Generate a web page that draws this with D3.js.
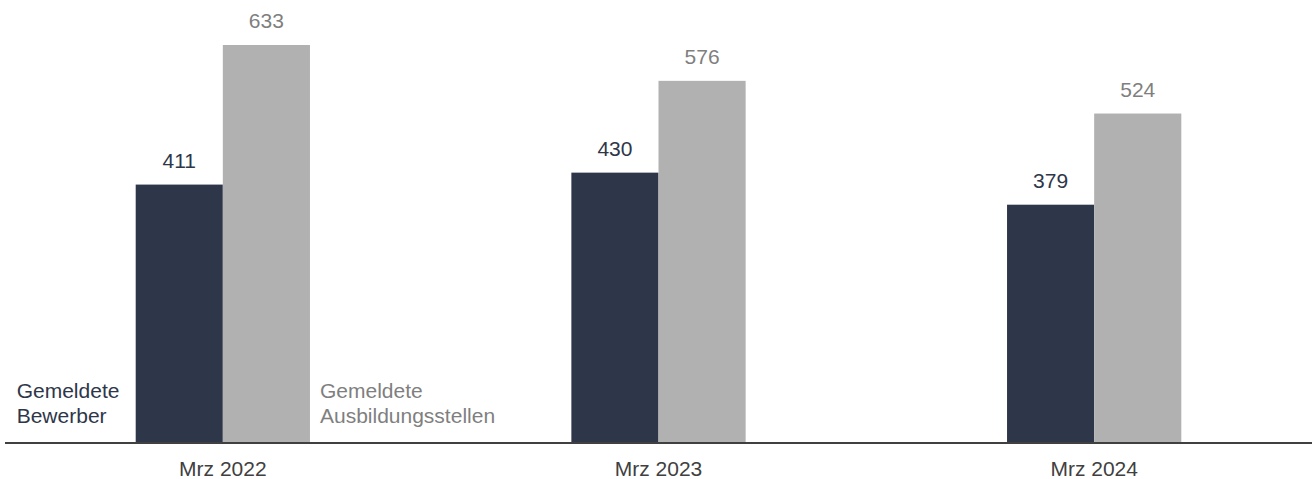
<!DOCTYPE html>
<html>
<head>
<meta charset="utf-8">
<script src="https://cdn.jsdelivr.net/npm/d3@7"></script>
<style>
  html, body { margin: 0; padding: 0; background: #fff; }
  svg { display: block; font-family: "Liberation Sans", Arial, sans-serif; }
</style>
</head>
<body>
<svg id="chart" width="1312" height="479"></svg>
<script>
// Monthly figures (March) for reported applicants vs. reported training positions
const categories = ["Mrz 2022", "Mrz 2023", "Mrz 2024"];
const seriesNames = ["Gemeldete Bewerber", "Gemeldete Ausbildungsstellen"];
const bewerber = [411, 430, 379];
const stellen = [633, 576, 524];
const legendLines = [["Gemeldete", "Bewerber"], ["Gemeldete", "Ausbildungsstellen"]];

const colors = ["#2e3649", "#b1b1b1"];
const labelColors = ["#2e3649", "#7f7f7f"];

const width = 1312, height = 479;
const baseY = 443;
const svg = d3.select("#chart");

const x0 = d3.scaleBand()
  .domain(categories)
  .range([5, width])
  .paddingInner(0.6)
  .paddingOuter(0.3);

const x1 = d3.scaleBand()
  .domain(seriesNames)
  .range([0, x0.bandwidth()])
  .padding(0);

const y = d3.scaleLinear()
  .domain([0, 700])
  .range([baseY, baseY - 700 * (398 / 633)]);

const data = categories.map((c, i) => ({
  cat: c,
  values: [bewerber[i], stellen[i]]
}));

const groups = svg.selectAll("g.group")
  .data(data)
  .join("g")
  .attr("class", "group")
  .attr("transform", d => `translate(${x0(d.cat)},0)`);

groups.selectAll("rect")
  .data(d => d.values.map((v, k) => ({ v, k })))
  .join("rect")
  .attr("x", d => x1(seriesNames[d.k]))
  .attr("width", x1.bandwidth())
  .attr("y", d => y(d.v))
  .attr("height", d => baseY - y(d.v))
  .attr("fill", d => colors[d.k]);

groups.selectAll("text.val")
  .data(d => d.values.map((v, k) => ({ v, k })))
  .join("text")
  .attr("class", "val")
  .attr("x", d => x1(seriesNames[d.k]) + x1.bandwidth() / 2)
  .attr("y", d => y(d.v) - 17)
  .attr("text-anchor", "middle")
  .attr("font-size", 21)
  .attr("fill", d => labelColors[d.k])
  .text(d => d.v);

// Baseline / category axis
const axis = d3.axisBottom(x0).tickSize(0).tickPadding(0);
const axisG = svg.append("g")
  .attr("transform", `translate(0,${baseY})`)
  .call(axis);
axisG.select(".domain")
  .attr("stroke", "#404040")
  .attr("stroke-width", 2)
  .attr("d", `M5,0H${width}`);
axisG.selectAll(".tick text")
  .attr("font-family", "Liberation Sans, Arial, sans-serif")
  .attr("font-size", 21)
  .attr("fill", "#404040")
  .attr("dy", null)
  .attr("y", 33);

// Series labels beside the first group of bars
const firstX = x0(categories[0]);
const legendX = [firstX - 119, firstX + x0.bandwidth() + 10];
legendLines.forEach((lines, k) => {
  const t = svg.append("text")
    .attr("x", legendX[k])
    .attr("y", 398)
    .attr("font-size", 21)
    .attr("fill", labelColors[k]);
  lines.forEach((ln, j) => {
    t.append("tspan")
      .attr("x", legendX[k])
      .attr("dy", j === 0 ? 0 : 25)
      .text(ln);
  });
});
</script>
</body>
</html>
